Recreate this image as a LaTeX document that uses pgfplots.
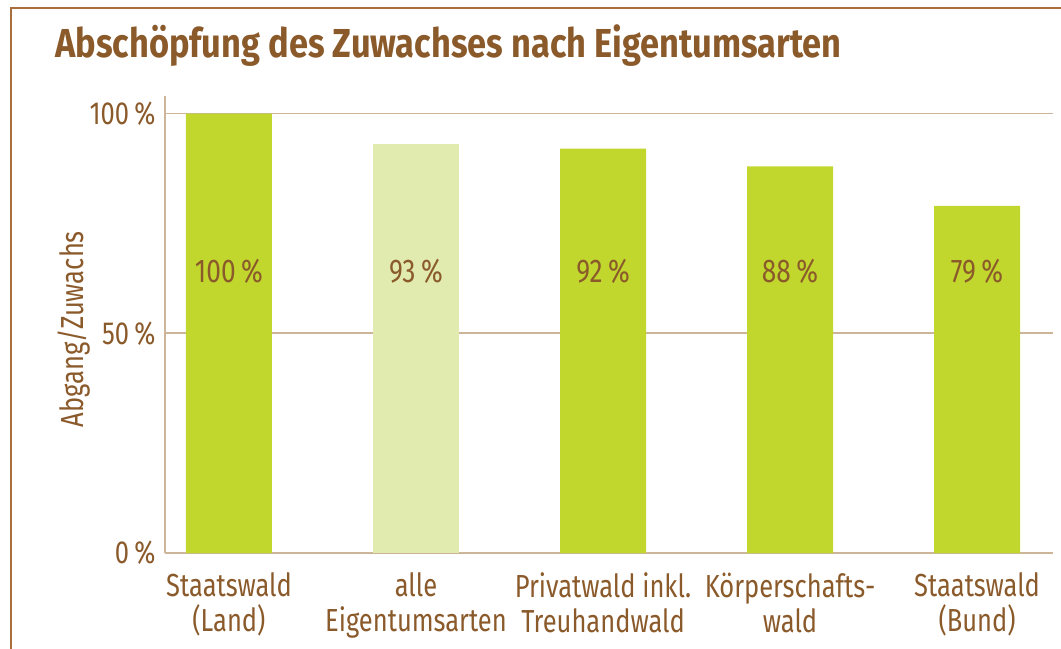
\documentclass[border=0pt]{standalone}
\usepackage{pgfplots}
\pgfplotsset{compat=1.18}
\usepackage{fontspec}
\setmainfont{Fira Sans}[FakeStretch=0.8]
\newfontfamily\titlefont{Fira Sans}[FakeStretch=0.85]
\definecolor{barg}{HTML}{C1D72E}
\definecolor{barl}{HTML}{E1EBB0}
\definecolor{txtbrown}{HTML}{8B5A2B}
\definecolor{gridc}{HTML}{CDB59A}
\definecolor{framec}{HTML}{A86E3E}
\begin{document}
\begin{tikzpicture}
\path[use as bounding box] (0,0) rectangle (530.5bp,324.5bp);
\draw[framec, line width=1bp] (5.5bp,0) -- (5.5bp,320.5bp) -- (530.5bp,320.5bp);
\node[anchor=base west, inner sep=0pt, font=\titlefont\bfseries\fontsize{20.3}{24}\selectfont, text=txtbrown] at (27.5bp,295.5bp) {Abschöpfung des Zuwachses nach Eigentumsarten};
\begin{axis}[
  at={(82.5bp,48bp)}, anchor=south west,
  scale only axis, width=444bp, height=228.5bp,
  xmin=-0.342, xmax=4.406, ymin=0, ymax=104,
  axis lines=left, axis line style={-, draw=gridc, line width=0.8bp},
  xtick={0,1,2,3,4},
  xticklabels={{Staatswald\\(Land)},{alle\\Eigentumsarten},{Privatwald inkl.\\Treuhandwald},{Körperschafts-\\wald},{Staatswald\\(Bund)}},
  ytick={0,50,100}, yticklabels={0\,\%,50\,\%,100\,\%},
  major tick length=0pt,
  ymajorgrids, grid style={draw=gridc, line width=0.8bp},
  tick label style={font=\fontsize{16}{17.5}\selectfont, text=txtbrown},
  xticklabel style={align=center, yshift=-6.5bp},
  yticklabel style={xshift=-1.2bp},
  ylabel={Abgang/Zuwachs},
  every axis y label/.style={at={(axis description cs:-0.0923,0.49)}, rotate=90, anchor=base, font=\fontsize{16}{17.5}\selectfont, text=txtbrown},
  /pgf/number format/assume math mode=true,
  clip=false,
]
\addplot[ybar, bar shift=0pt, bar width=43bp, fill=barg, draw=none] coordinates {(0,100) (2,92) (3,88) (4,79)};
\addplot[ybar, bar shift=0pt, bar width=43bp, fill=barl, draw=none] coordinates {(1,93)};
\addplot[draw=none, mark=none, point meta=explicit,
  nodes near coords={\pgfmathprintnumber{\pgfplotspointmeta}\,\%},
  nodes near coords style={anchor=center, font=\fontsize{16.5}{18}\selectfont, text=txtbrown}]
  coordinates {(0,64) [100] (1,64) [93] (2,64) [92] (3,64) [88] (4,64) [79]};
\end{axis}
\end{tikzpicture}
\end{document}
